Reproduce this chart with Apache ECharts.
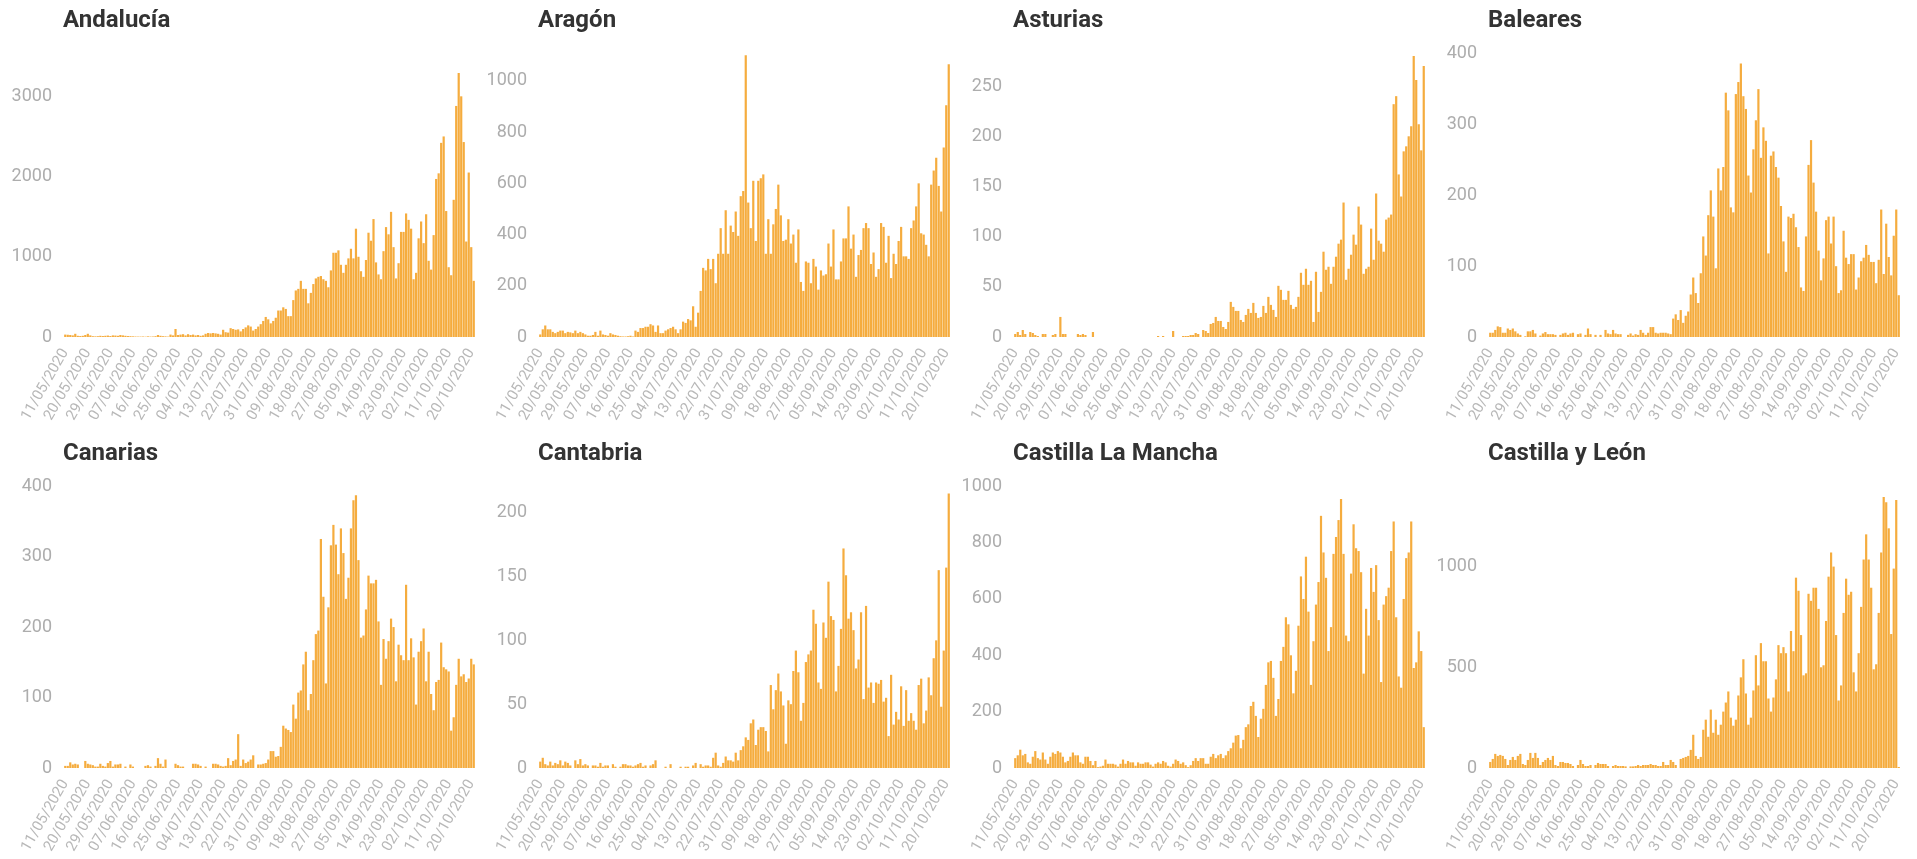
<!DOCTYPE html>
<html>
<head>
<meta charset="utf-8">
<script src="https://cdn.jsdelivr.net/npm/echarts@6/dist/echarts.min.js"></script>
<style>
  html, body { margin: 0; padding: 0; background: #ffffff; }
  #chart { width: 1917px; height: 859px; }
</style>
</head>
<body>
<div id="chart"></div>
<script>
// ---- Data ----
const startDate = '2020-05-11';
const nDays = 164; // 11/05/2020 .. 21/10/2020

const regionNames = ['Andalucía', 'Aragón', 'Asturias', 'Baleares',
                     'Canarias', 'Cantabria', 'Castilla La Mancha', 'Castilla y León'];

const andalucia = [30,28,25,20,40,15,12,15,25,40,
 20,10,8,10,15,12,15,18,12,20,
 18,15,25,20,15,12,10,8,6,5,
 5,6,4,8,5,6,10,25,15,10,
 8,5,30,20,100,25,30,35,20,35,
 25,30,20,25,15,20,40,50,45,50,
 45,40,30,90,60,55,110,100,90,95,
 70,100,120,145,130,80,100,130,160,200,
 250,220,170,200,240,330,330,370,350,260,
 260,460,580,600,700,600,600,420,550,660,
 730,750,760,720,700,620,830,1050,1050,1080,
 900,800,900,980,1100,980,1350,1000,820,750,
 960,1300,1200,1470,930,780,720,1070,1370,1280,
 1560,1120,730,920,1310,1310,1540,1460,1350,720,
 800,1230,1440,1170,1530,950,840,1270,1970,2040,
 2420,2500,1570,870,770,1710,2880,3290,3000,2430,
 1190,2050,1120,700];

const aragon = [10,30,45,30,30,20,15,20,25,25,
 15,20,18,15,25,15,20,15,10,5,
 5,8,20,5,25,10,8,5,15,10,
 8,5,3,2,2,3,5,2,25,20,
 35,35,40,40,50,45,20,45,15,15,
 25,30,35,40,30,15,30,60,55,70,
 65,120,40,95,180,270,260,305,265,305,
 210,325,425,325,495,325,435,410,490,395,
 550,570,1100,525,425,610,375,610,620,635,
 325,460,325,440,500,595,475,375,380,460,
 365,400,290,420,215,180,295,290,210,305,
 275,185,260,240,245,365,275,420,225,225,
 295,385,385,510,345,400,235,320,340,425,
 445,425,285,330,235,265,445,430,290,395,
 230,325,285,375,430,315,315,305,425,455,
 510,600,405,400,360,315,595,650,700,590,
 490,740,905,1065];

const asturias = [3,5,2,7,3,0,5,4,2,1,
 0,3,3,0,0,2,3,0,20,3,
 3,0,0,0,0,3,2,3,2,0,
 0,5,0,0,0,0,0,0,0,0,
 0,0,0,0,0,0,0,0,0,0,
 0,0,0,0,0,0,0,1,0,1,
 0,0,0,6,0,0,0,1,1,1,
 2,2,4,3,0,7,6,4,
 13,14,20,16,16,10,8,15,35,30,
 26,26,17,15,22,28,24,34,24,19,
 20,31,24,40,32,27,20,51,47,37,
 37,46,32,28,30,40,64,52,68,52,
 56,15,65,25,45,85,67,70,53,70,
 80,93,97,134,57,68,82,102,92,130,
 112,63,68,70,108,77,143,96,93,85,
 117,119,122,232,240,162,140,185,190,200,
 210,280,256,212,186,270];

const baleares = [6,6,10,15,14,6,6,12,10,12,
 8,5,3,0,1,8,8,10,5,0,
 2,5,7,4,4,4,3,0,3,5,
 6,3,5,6,0,4,5,0,3,12,
 4,0,3,0,3,0,10,5,4,10,
 5,4,4,0,0,3,5,2,4,3,
 10,6,3,6,14,14,6,5,6,6,
 6,5,4,
 26,32,24,38,20,30,36,60,84,62,
 48,90,142,115,172,207,170,97,238,207,
 240,345,320,183,176,343,360,386,340,322,
 228,204,265,306,350,253,296,277,118,256,
 262,240,225,185,135,92,170,168,174,155,
 127,70,65,142,243,278,218,177,122,80,
 111,165,170,132,170,100,62,66,150,112,
 103,117,117,67,84,107,112,130,116,106,
 106,76,109,180,89,160,113,87,143,180,
 59];

const canarias = [3,3,8,5,6,5,0,0,10,6,
 5,4,2,2,6,3,2,7,10,2,
 5,5,6,0,2,0,5,2,0,0,
 0,0,3,4,2,0,3,14,6,2,
 12,0,0,0,6,4,2,2,0,0,
 0,6,6,5,3,0,2,0,0,6,
 6,5,3,2,3,14,4,10,12,
 48,3,12,7,9,12,18,0,5,5,
 6,7,12,24,24,16,17,30,60,56,
 54,51,90,70,107,110,147,165,82,105,
 153,190,195,325,243,120,228,316,345,317,
 275,340,305,240,270,340,380,387,295,185,
 188,225,273,262,262,267,208,118,183,155,
 180,212,200,123,175,160,153,260,153,184,
 157,90,165,180,198,123,165,105,82,122,
 125,178,143,140,137,53,72,118,155,130,
 133,122,127,155,147];

const cantabria = [5,8,3,2,5,2,4,3,6,2,
 5,4,2,0,6,3,7,2,3,2,
 0,2,2,1,4,1,2,2,0,3,
 1,0,1,3,3,2,2,1,2,3,
 4,1,2,0,2,3,6,0,0,0,
 1,0,3,0,0,0,1,0,1,1,
 0,2,4,0,3,1,2,2,1,
 8,12,2,1,4,9,6,6,5,12,
 6,14,17,24,22,35,38,18,30,32,
 32,29,13,65,46,61,74,60,49,19,
 53,50,76,92,75,37,51,83,89,92,
 124,113,67,62,114,102,146,119,116,60,
 80,109,172,151,117,122,108,78,85,122,
 54,127,63,67,51,67,66,69,52,55,
 25,73,34,44,38,64,33,61,37,43,
 37,30,65,70,35,45,71,57,86,100,
 155,48,92,157,215];

const castillaLaMancha = [35,45,65,45,50,20,15,40,60,35,
 30,55,30,15,40,55,50,60,55,40,
 20,25,40,55,45,45,20,15,40,40,
 25,10,25,3,5,8,30,15,15,15,
 12,5,15,30,15,25,20,20,8,20,
 15,15,20,20,12,5,15,20,15,25,
 20,8,5,15,30,25,15,20,10,3,
 10,25,35,25,35,35,15,15,40,50,
 35,45,50,35,45,60,70,90,115,117,
 70,100,145,155,220,235,185,110,175,210,
 295,375,380,320,185,245,380,430,535,510,
 400,265,345,505,680,600,750,555,295,450,
 580,660,895,765,675,415,500,760,820,880,
 955,760,470,450,690,865,780,770,695,335,
 565,470,710,625,720,525,305,580,610,640,
 770,875,535,325,285,600,745,765,875,355,
 375,485,415,145];

const castillaYLeon = [30,45,70,60,65,60,45,15,40,55,
 40,60,70,20,15,40,75,50,75,50,
 15,30,40,50,40,60,15,10,30,30,
 25,25,20,10,0,15,40,20,10,10,
 15,0,15,25,20,20,20,10,0,10,
 15,10,10,10,8,0,8,8,10,15,
 10,15,15,15,20,15,15,10,10,30,
 15,15,40,30,15,0,45,50,55,60,
 90,165,60,45,55,190,240,155,290,175,
 240,165,215,280,325,380,250,210,240,360,
 450,540,370,215,250,385,560,410,620,530,
 530,345,280,350,440,610,570,600,570,380,
 680,580,945,880,660,460,470,865,830,895,
 895,790,500,510,730,950,1070,1000,660,335,
 410,770,940,860,875,475,380,570,800,1035,
 1160,1035,895,490,515,770,1070,1345,1320,1190,
 665,990,1330,5];

const seriesData = [andalucia, aragon, asturias, baleares,
                    canarias, cantabria, castillaLaMancha, castillaYLeon];

// y-axis tick steps (value units) for each panel
const tickSteps = [1000, 200, 50, 100, 100, 50, 200, 500];

// ---- Categories (dates) ----
function buildDates(start, n) {
  const out = [];
  const d0 = new Date(start + 'T12:00:00Z');
  for (let i = 0; i < n; i++) {
    const d = new Date(d0.getTime() + i * 86400000);
    const dd = String(d.getUTCDate()).padStart(2, '0');
    const mm = String(d.getUTCMonth() + 1).padStart(2, '0');
    out.push(dd + '/' + mm + '/' + d.getUTCFullYear());
  }
  return out;
}
const categories = buildDates(startDate, nDays);

// ---- Layout / style ----
const FONT = "'Source Sans Pro', Roboto, sans-serif";
const BAR = '#F5AC3E';
const colLeft = [64, 539, 1014, 1489];
const rowTop = [53, 484];
const titleTop = [9, 442];
const plotW = 411, plotH = 284;
const axisMax = [3540, 1109, 283, 401, 403, 222.5, 1008, 1410];

const grids = [], xAxes = [], yAxes = [], series = [], titles = [];
for (let k = 0; k < 8; k++) {
  const c = k % 4, r = Math.floor(k / 4);
  grids.push({ left: colLeft[c], top: rowTop[r], width: plotW, height: plotH, containLabel: false });
  titles.push({
    text: regionNames[k], left: colLeft[c] - 1, top: titleTop[r], padding: 0,
    textStyle: { fontFamily: FONT, fontSize: 24, fontWeight: 'bold', color: '#333333' }
  });
  xAxes.push({
    type: 'category', gridIndex: k, data: categories,
    axisLine: { show: false }, axisTick: { show: false }, splitLine: { show: false },
    axisLabel: { interval: 8, rotate: 60, color: '#b8b8b8', fontSize: 15, fontFamily: FONT, margin: 13 }
  });
  const step = tickSteps[k];
  yAxes.push({
    type: 'value', gridIndex: k, min: 0, max: axisMax[k], interval: step,
    axisLine: { show: false }, axisTick: { show: false }, splitLine: { show: false },
    axisLabel: {
      color: '#adadad', fontSize: 18, fontFamily: FONT, margin: 12,
      formatter: function (v) { return (Math.abs(v % step) < 1e-6) ? String(v) : ''; }
    }
  });
  series.push({
    type: 'bar', xAxisIndex: k, yAxisIndex: k, data: seriesData[k],
    barCategoryGap: '12%', itemStyle: { color: BAR }, silent: true
  });
}

const chart = echarts.init(document.getElementById('chart'), null, { renderer: 'canvas' });
chart.setOption({
  backgroundColor: '#ffffff',
  animation: false,
  title: titles,
  grid: grids,
  xAxis: xAxes,
  yAxis: yAxes,
  series: series
});
</script>
</body>
</html>
